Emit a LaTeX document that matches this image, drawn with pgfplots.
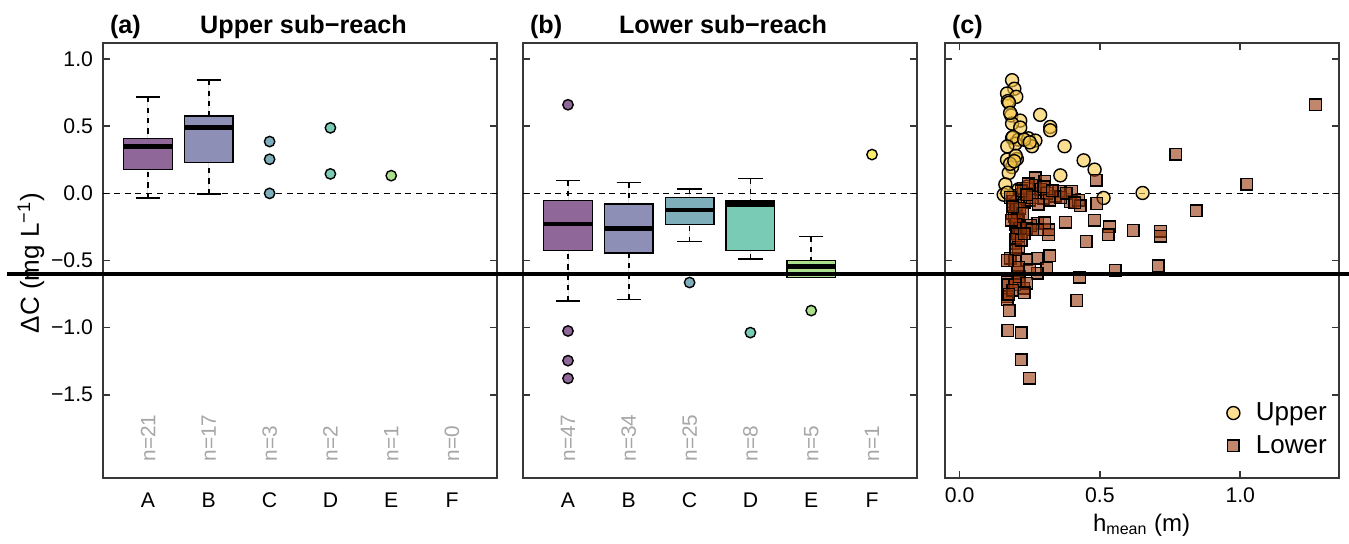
\documentclass[border=0pt]{standalone}
\usepackage{fontspec}
\setmainfont{Liberation Sans}
\usepackage{pgfplots}
\pgfplotsset{compat=1.18}
\usepgfplotslibrary{statistics}

\definecolor{cA}{RGB}{143,103,152}
\definecolor{cB}{RGB}{141,143,183}
\definecolor{cC}{RGB}{127,174,187}
\definecolor{cD}{RGB}{122,203,181}
\definecolor{cE}{RGB}{170,224,140}
\definecolor{cF}{RGB}{254,238,110}
\definecolor{upc}{RGB}{250,200,70}
\definecolor{loc}{RGB}{150,55,10}
\definecolor{axc}{RGB}{55,55,55}

\tikzset{nlab/.style={rotate=90, anchor=west, inner sep=0pt, text=black!35, font=\fontsize{10.4}{12}\selectfont}}

\pgfplotsset{
  /pgfplots/boxplot/draw/lower whisker/.code={%
    \draw[black, line width=0.75pt, dash pattern=on 2.6pt off 2.6pt]
      (boxplot box cs:\pgfplotsboxplotvalue{lower whisker},0.5) --
      (boxplot box cs:\pgfplotsboxplotvalue{lower quartile},0.5);
    \draw[black, line width=0.75pt]
      (boxplot whisker cs:\pgfplotsboxplotvalue{lower whisker},0) --
      (boxplot whisker cs:\pgfplotsboxplotvalue{lower whisker},1);
  },
  /pgfplots/boxplot/draw/upper whisker/.code={%
    \draw[black, line width=0.75pt, dash pattern=on 2.6pt off 2.6pt]
      (boxplot box cs:\pgfplotsboxplotvalue{upper whisker},0.5) --
      (boxplot box cs:\pgfplotsboxplotvalue{upper quartile},0.5);
    \draw[black, line width=0.75pt]
      (boxplot whisker cs:\pgfplotsboxplotvalue{upper whisker},0) --
      (boxplot whisker cs:\pgfplotsboxplotvalue{upper whisker},1);
  },
  /pgfplots/boxplot/every median/.style={line width=2.2pt, black},
  panel/.style={
    scale only axis, width=197pt, height=217.5pt,
    ymin=-2.12, ymax=1.12,
    ytick={-1.5,-1,-0.5,0,0.5,1},
    tick align=inside, major tick length=3.5pt,
    axis line style={axc, line width=0.8pt},
    every tick/.style={axc, line width=0.8pt},
    tick label style={font=\fontsize{10.6}{12}\selectfont, text=black},
    yticklabel style={xshift=-1.5pt},
  },
  cat/.style={
    xmin=0.26, xmax=6.74,
    xtick={1,2,3,4,5,6}, xticklabels={A,B,C,D,E,F},
    xtick style={draw=none},
    xticklabel style={yshift=-4pt},
    boxplot/draw direction=y,
    boxplot/box extend=0.8, boxplot/whisker extend=0.4,
  },
  bx/.style={draw=black, line width=0.7pt, fill=#1},
  outl/.style={only marks, mark=*, mark size=2.6pt, mark options={draw=black, fill=#1, line width=0.7pt}},
  zeroline/.style={black, line width=0.6pt, dash pattern=on 3pt off 2.4pt, forget plot},
}

\begin{document}
\begin{tikzpicture}
\useasboundingbox (0,0) rectangle (674.5pt,271.5pt);

% ---------------- (a) Upper sub-reach ----------------
\begin{axis}[panel, cat, at={(51.5pt,32.5pt)}, anchor=south west,
  yticklabels={−1.5,−1.0,−0.5,0.0,0.5,1.0}]
\addplot[zeroline] coordinates {(0.26,0) (6.74,0)};
\addplot[bx=cA, boxplot prepared={draw position=1, median=0.35, upper quartile=0.41, lower quartile=0.177, upper whisker=0.716, lower whisker=-0.034}] coordinates {};
\addplot[bx=cB, boxplot prepared={draw position=2, median=0.49, upper quartile=0.575, lower quartile=0.23, upper whisker=0.843, lower whisker=-0.005}] coordinates {};
\addplot[outl=cC] coordinates {(3,0.386) (3,0.254) (3,0.0)};
\addplot[outl=cD] coordinates {(4,0.488) (4,0.145)};
\addplot[outl=cE] coordinates {(5,0.132)};
\node[nlab] at (axis cs:1,-2) {n=21};
\node[nlab] at (axis cs:2,-2) {n=17};
\node[nlab] at (axis cs:3,-2) {n=3};
\node[nlab] at (axis cs:4,-2) {n=2};
\node[nlab] at (axis cs:5,-2) {n=1};
\node[nlab] at (axis cs:6,-2) {n=0};
\coordinate (thk) at (axis cs:1,-0.6);
\end{axis}

% ---------------- (b) Lower sub-reach ----------------
\begin{axis}[panel, cat, at={(261.5pt,32.5pt)}, anchor=south west,
  yticklabels={,,,,,}]
\addplot[zeroline] coordinates {(0.26,0) (6.74,0)};
\addplot[bx=cA, boxplot prepared={draw position=1, median=-0.226, upper quartile=-0.052, lower quartile=-0.425, upper whisker=0.097, lower whisker=-0.80}] coordinates {};
\addplot[bx=cB, boxplot prepared={draw position=2, median=-0.261, upper quartile=-0.079, lower quartile=-0.445, upper whisker=0.082, lower whisker=-0.791}] coordinates {};
\addplot[bx=cC, boxplot prepared={draw position=3, median=-0.122, upper quartile=-0.03, lower quartile=-0.231, upper whisker=0.033, lower whisker=-0.36}] coordinates {};
\addplot[bx=cD, boxplot prepared={draw position=4, median=-0.084, upper quartile=-0.057, lower quartile=-0.425, upper whisker=0.112, lower whisker=-0.487}] coordinates {};
\addplot[bx=cE, boxplot prepared={draw position=5, median=-0.545, upper quartile=-0.502, lower quartile=-0.625, upper whisker=-0.321, lower whisker=-0.625}] coordinates {};
\addplot[outl=cA] coordinates {(1,0.66) (1,-1.025) (1,-1.246) (1,-1.378)};
\addplot[outl=cC] coordinates {(3,-0.664)};
\addplot[outl=cD] coordinates {(4,-1.037)};
\addplot[outl=cE] coordinates {(5,-0.873)};
\addplot[outl=cF] coordinates {(6,0.289)};
\node[nlab] at (axis cs:1,-2) {n=47};
\node[nlab] at (axis cs:2,-2) {n=34};
\node[nlab] at (axis cs:3,-2) {n=25};
\node[nlab] at (axis cs:4,-2) {n=8};
\node[nlab] at (axis cs:5,-2) {n=5};
\node[nlab] at (axis cs:6,-2) {n=1};
\end{axis}

% ---------------- (c) scatter ----------------
\begin{axis}[panel, at={(472.5pt,32.5pt)}, anchor=south west,
  yticklabels={,,,,,},
  xmin=-0.052, xmax=1.352, xtick={0,0.5,1}, xticklabels={0.0,0.5,1.0},
  xticklabel style={yshift=-1.5pt},
  legend style={draw=none, fill=none, at={(rel axis cs:0.985,0.035)}, anchor=south east,
    font=\fontsize{13}{15}\selectfont, row sep=2pt, column sep=6pt, inner sep=1pt},
  legend cell align=left]
\addplot[only marks, mark=*, mark size=3.25pt, mark options={draw=black, fill=upc, fill opacity=0.6, line width=0.7pt}] coordinates {
(0.187,0.843) (0.195,0.779) (0.169,0.744) (0.202,0.719) (0.172,0.687) (0.176,0.675)
(0.184,0.58) (0.216,0.542) (0.187,0.52) (0.216,0.49) (0.287,0.585) (0.323,0.495)
(0.323,0.47) (0.187,0.413) (0.21,0.40) (0.245,0.41) (0.27,0.393) (0.199,0.37)
(0.258,0.351) (0.374,0.351) (0.169,0.251) (0.204,0.256) (0.187,0.196) (0.175,0.152)
(0.442,0.246) (0.481,0.177) (0.359,0.134) (0.163,0.067) (0.157,-0.01) (0.513,-0.034)
(0.652,0.003) (0.19,0.42) (0.23,0.40) (0.20,0.28) (0.18,0.22) (0.21,0.03)
(0.19,-0.02) (0.22,0.00) (0.17,0.35) (0.25,0.38) (0.18,0.60) (0.195,0.24)
(0.24,0.05) (0.17,0.005)
};
\addlegendentry{Upper}
\addplot[only marks, mark=square*, mark size=2.9pt, mark options={draw=black, fill=loc, fill opacity=0.6, line width=0.7pt}] coordinates {
(1.268,0.66) (0.771,0.291) (1.024,0.067) (0.843,-0.131) (0.487,0.097) (0.489,-0.075)
(0.481,-0.2) (0.534,-0.25) (0.53,-0.308) (0.618,-0.276) (0.716,-0.283) (0.716,-0.32)
(0.451,-0.358) (0.377,-0.216) (0.317,-0.308) (0.317,-0.27) (0.279,-0.221) (0.303,-0.22)
(0.279,-0.27) (0.321,-0.465) (0.276,-0.482) (0.24,-0.495) (0.18,-0.482) (0.197,-0.5)
(0.311,-0.557) (0.276,-0.594) (0.555,-0.574) (0.707,-0.54) (0.427,-0.624) (0.208,-0.59)
(0.169,-0.664) (0.213,-0.66) (0.172,-0.681) (0.169,-0.769) (0.169,-0.79) (0.228,-0.706)
(0.197,-0.68) (0.213,-0.62) (0.418,-0.798) (0.177,-0.873) (0.172,-1.022) (0.22,-1.037)
(0.219,-1.241) (0.249,-1.378)
(0.27,0.115) (0.303,0.09) (0.228,0.04) (0.258,0.0) (0.298,-0.035) (0.353,0.015)
(0.4,0.015) (0.394,-0.06) (0.424,-0.05) (0.43,-0.092) (0.34,-0.02) (0.189,-0.06)
(0.204,-0.122) (0.187,-0.147) (0.21,-0.209) (0.204,-0.27) (0.21,-0.32) (0.199,-0.37)
(0.254,-0.24) (0.23,-0.07) (0.25,-0.05) (0.22,0.02) (0.245,0.07) (0.27,0.06)
(0.29,0.03) (0.31,0.0) (0.32,-0.05) (0.26,-0.03) (0.24,-0.01) (0.2,-0.09)
(0.195,-0.17) (0.205,-0.19) (0.215,-0.11) (0.225,-0.15) (0.2,-0.23) (0.215,-0.26)
(0.205,-0.3) (0.2,-0.34) (0.21,-0.4) (0.2,-0.42) (0.22,-0.35) (0.24,-0.26)
(0.26,-0.27) (0.23,-0.3) (0.28,-0.08) (0.36,-0.03) (0.38,0.0) (0.41,-0.07)
(0.3,0.05) (0.33,0.02) (0.18,-0.03) (0.19,-0.1) (0.185,-0.2) (0.21,-0.55)
(0.19,-0.72) (0.175,-0.75) (0.24,-0.67) (0.23,-0.74) (0.25,-0.57) (0.17,-0.5)
};
\addlegendentry{Lower}
\addplot[zeroline] coordinates {(-0.052,0) (1.352,0)};
\end{axis}

% titles and labels
\node[anchor=base west, font=\bfseries\fontsize{12.6}{14}\selectfont] at (51.5pt,255pt) {(a)};
\node[anchor=base, font=\bfseries\fontsize{12.6}{14}\selectfont] at (151.75pt,255pt) {Upper sub−reach};
\node[anchor=base west, font=\bfseries\fontsize{12.6}{14}\selectfont] at (261.5pt,255pt) {(b)};
\node[anchor=base, font=\bfseries\fontsize{12.6}{14}\selectfont] at (361.5pt,255pt) {Lower sub−reach};
\node[anchor=base west, font=\bfseries\fontsize{12.6}{14}\selectfont] at (472.5pt,255pt) {(c)};
\node[rotate=90, anchor=center, font=\fontsize{13}{15}\selectfont] at (15.5pt,140pt) {ΔC (mg L\textsuperscript{−1})};
\node[anchor=base, font=\fontsize{12}{14}\selectfont] at (570.8pt,6pt) {h\textsubscript{mean} (m)};

\draw[black, line width=2pt] (3.5pt,0 |- thk) -- (674.5pt,0 |- thk);
\end{tikzpicture}
\end{document}
